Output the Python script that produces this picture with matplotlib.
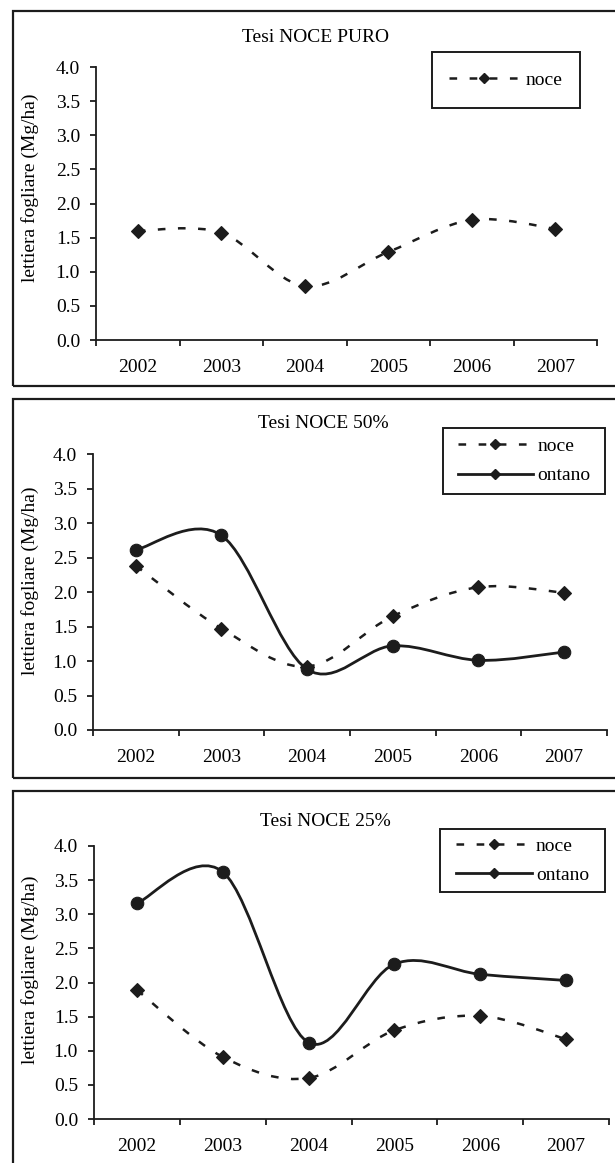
import numpy as np
import matplotlib
matplotlib.use("Agg")
import matplotlib.pyplot as plt
from matplotlib.path import Path
from matplotlib.patches import PathPatch, Rectangle
from matplotlib.lines import Line2D

# ---- data -------------------------------------------------------------
years = ["2002", "2003", "2004", "2005", "2006", "2007"]

noce_puro = [1.60, 1.57, 0.79, 1.29, 1.76, 1.63]

noce_50 = [2.38, 1.47, 0.92, 1.65, 2.07, 1.99]
ontano_50 = [2.61, 2.82, 0.88, 1.22, 1.01, 1.13]

noce_25 = [1.89, 0.91, 0.60, 1.30, 1.51, 1.17]
ontano_25 = [3.16, 3.62, 1.12, 2.27, 2.12, 2.03]

titles = ["Tesi NOCE PURO", "Tesi NOCE 50%", "Tesi NOCE 25%"]
ylabel = "lettiera fogliare (Mg/ha)"
yticks = [0.0, 0.5, 1.0, 1.5, 2.0, 2.5, 3.0, 3.5, 4.0]
series_names = ["noce", "ontano"]

# ---- style ------------------------------------------------------------
plt.rcParams["font.family"] = ["Liberation Serif", "DejaVu Serif"]
plt.rcParams["font.size"] = 14
plt.rcParams["lines.scale_dashes"] = False

INK = "#1c1c1c"
DASH = (0, (5.5, 9.0))
W, H = 615, 1163

fig = plt.figure(figsize=(W / 100, H / 100), dpi=100)


def fx(px):
    return px / W


def fy(py):
    return 1 - py / H


def smooth_path(xs, ys):
    """Cubic Bezier path through the points (Catmull-Rom style smoothing)."""
    pts = np.column_stack([xs, ys]).astype(float)
    ext = np.vstack([pts[0], pts, pts[-1]])
    verts = [pts[0]]
    codes = [Path.MOVETO]
    for i in range(len(pts) - 1):
        p0, p1, p2, p3 = ext[i], ext[i + 1], ext[i + 2], ext[i + 3]
        verts += [p1 + (p2 - p0) / 6.0, p2 - (p3 - p1) / 6.0, p2]
        codes += [Path.CURVE4] * 3
    return Path(verts, codes)


def draw_series(ax, values, dashed, marker):
    x = np.arange(len(values))
    ls = DASH if dashed else "-"
    lw = 1.8 if dashed else 2.0
    ax.add_patch(PathPatch(smooth_path(x, values), fill=False, edgecolor=INK,
                           linewidth=lw, linestyle=ls, capstyle="butt", zorder=2))
    if marker == "D":
        ax.plot(x, values, linestyle="none", marker="D", ms=7, color=INK,
                mec=INK, mew=0.8, zorder=3)
    else:
        ax.plot(x, values, linestyle="none", marker="o", ms=9, color=INK,
                mec=INK, mew=0.8, zorder=3)


def style_axes(ax):
    ax.set_xlim(-0.5, len(years) - 0.5)
    ax.set_ylim(0, 4)
    for s in ("top", "right"):
        ax.spines[s].set_visible(False)
    for s in ("left", "bottom"):
        ax.spines[s].set_linewidth(1.3)
        ax.spines[s].set_color(INK)
    ax.set_xticks(np.arange(-0.5, len(years), 1.0))
    ax.set_xticklabels([])
    ax.set_xticks(np.arange(len(years)), minor=True)
    ax.set_xticklabels(years, minor=True)
    ax.tick_params(axis="x", which="major", direction="out", length=4.5,
                   width=1.3, color=INK)
    ax.tick_params(axis="x", which="minor", length=0, pad=13.5, labelsize=14)
    ax.set_yticks(yticks)
    ax.set_yticklabels([f"{v:.1f}" for v in yticks])
    ax.tick_params(axis="y", direction="out", length=4.5, width=1.3,
                   color=INK, pad=7, labelsize=14)
    ax.patch.set_alpha(0)


def add_frame(x0, y0, x1, y1, lw):
    fig.patches.append(Rectangle((fx(x0), fy(y1)), fx(x1) - fx(x0),
                                 fy(y0) - fy(y1), transform=fig.transFigure,
                                 fill=False, edgecolor=INK, linewidth=lw,
                                 zorder=0))


def add_legend(box, names, handle_len, text_pad, spacing):
    x0, y0, x1, y1 = box
    add_frame(x0, y0, x1, y1, 1.4)
    handles = [
        Line2D([], [], color=INK, lw=1.8, linestyle=DASH, marker="D", ms=5.5),
        Line2D([], [], color=INK, lw=2.0, linestyle="-", marker="D", ms=5.5),
    ][:len(names)]
    fig.legend(handles, names, loc="center",
               bbox_to_anchor=(fx((x0 + x1) / 2), fy((y0 + y1) / 2)),
               bbox_transform=fig.transFigure, frameon=False, borderpad=0,
               borderaxespad=0, handlelength=handle_len,
               handletextpad=text_pad, labelspacing=spacing, fontsize=14)


# ---- panels -----------------------------------------------------------
panels = [
    dict(frame=(12.7, 11, 640, 386), axes=(96, 597, 67, 340),
         title=(315, 37), ylab=(30, 188),
         legend=(432, 52, 580, 108), series=[(noce_puro, True, "D")]),
    dict(frame=(12.7, 399, 640, 778), axes=(93, 607, 454, 730),
         title=(323, 424), ylab=(30, 581),
         legend=(443, 428, 605, 494),
         series=[(noce_50, True, "D"), (ontano_50, False, "o")]),
    dict(frame=(12.7, 790.7, 640, 1190), axes=(94, 609, 846, 1119),
         title=(325, 822), ylab=(30, 970),
         legend=(440, 829, 605, 892),
         series=[(noce_25, True, "D"), (ontano_25, False, "o")]),
]

for title, p in zip(titles, panels):
    add_frame(*p["frame"], 1.6)
    l, r, t, b = p["axes"]
    ax = fig.add_axes([fx(l), fy(b), fx(r) - fx(l), fy(t) - fy(b)])
    style_axes(ax)
    for values, dashed, marker in p["series"]:
        draw_series(ax, values, dashed, marker)
    fig.text(fx(p["title"][0]), fy(p["title"][1]), title, ha="center",
             va="center", fontsize=14)
    fig.text(fx(p["ylab"][0]), fy(p["ylab"][1]), ylabel, ha="center",
             va="center", rotation=90, fontsize=14)
    n = len(p["series"])
    if n == 1:
        add_legend(p["legend"], series_names[:1], 3.6, 0.35, 0.5)
    else:
        add_legend(p["legend"], series_names, 3.9, 0.2, 0.6)

fig.savefig("out.png", dpi=100)
